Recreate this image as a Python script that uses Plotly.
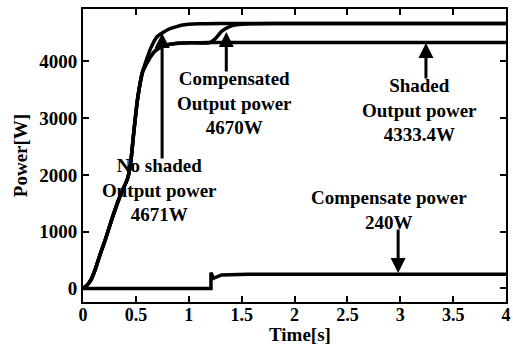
import plotly.graph_objects as go

# ---- data ----
t_common = [0, 0.04, 0.08, 0.12, 0.16, 0.21, 0.28, 0.36, 0.42, 0.45, 0.48, 0.517, 0.564]
p_common = [0, 60, 170, 360, 590, 855, 1263, 1674, 1930, 2200, 2750, 3352, 3822]

t_noshade_tail = [0.60, 0.642, 0.70, 0.80, 0.94, 1.1, 1.3, 4.0]
p_noshade_tail = [4030, 4240, 4437, 4560, 4643, 4665, 4671, 4671]

t_shade_tail = [0.60, 0.64, 0.69, 0.77, 0.876, 1.0, 1.2, 4.0]
p_shade_tail = [3960, 4090, 4200, 4285, 4318, 4330, 4333, 4333]

t_comp_tail = [0.60, 0.64, 0.69, 0.77, 0.876, 1.0, 1.2, 1.26, 1.31, 1.38, 1.45, 1.6, 1.8, 4.0]
p_comp_tail = [3960, 4090, 4200, 4285, 4318, 4330, 4335, 4420, 4530, 4610, 4645, 4665, 4670, 4670]

t_cpower = [0, 1.21, 1.21, 1.234, 1.31, 1.56, 2.0, 3.0, 4.0]
p_cpower = [0, 0, 280, 180, 238, 250, 252, 252, 252]

x_ticks = [0, 0.5, 1, 1.5, 2, 2.5, 3, 3.5, 4]
x_ticktext = ["0", "0.5", "1", "1.5", "2", "2.5", "3", "3.5", "4"]
y_ticks = [0, 1000, 2000, 3000, 4000]
y_ticktext = ["0", "1000", "2000", "3000", "4000"]

FONT = "Liberation Serif, Times New Roman, Times, serif"
LW = 3.5

fig = go.Figure()
for tt, pp in [(t_common + t_noshade_tail, p_common + p_noshade_tail),
               (t_common + t_shade_tail, p_common + p_shade_tail),
               (t_common + t_comp_tail, p_common + p_comp_tail)]:
    fig.add_trace(go.Scatter(x=tt, y=pp, mode="lines",
                             line=dict(color="black", width=LW, shape="spline", smoothing=0.5),
                             showlegend=False, hoverinfo="skip"))
fig.add_trace(go.Scatter(x=t_cpower, y=p_cpower, mode="lines",
                         line=dict(color="black", width=LW),
                         showlegend=False, hoverinfo="skip"))

tfont = dict(family=FONT, size=19, color="black", weight="bold")

texts = [
    ("No shaded<br>Output power<br>4671W", 0.72, 1736),
    ("Compensated<br>Output power<br>4670W", 1.43, 3269),
    ("Shaded<br>Output power<br>4333.4W", 3.18, 3145),
    ("Compensate power<br>240W", 2.89, 1392),
]
for txt, x, y in texts:
    fig.add_annotation(x=x, y=y, text=txt, showarrow=False, font=tfont,
                       xref="x", yref="y", align="center")

arrows = [
    (0.748, 4502, 0.748, 2264),
    (1.355, 4520, 1.355, 3797),
    (3.243, 4326, 3.243, 3674),
    (2.98, 273, 2.98, 1066),
]
for x, y, ax, ay in arrows:
    fig.add_annotation(x=x, y=y, ax=ax, ay=ay, xref="x", yref="y",
                       axref="x", ayref="y", text="", showarrow=True,
                       arrowhead=2, arrowsize=1.0, arrowwidth=3, arrowcolor="black")

title_font = dict(family=FONT, size=19, color="black", weight="bold")
axis_common = dict(showline=True, linecolor="black", linewidth=2, mirror="ticks",
                   ticks="inside", ticklen=6, tickwidth=1.5, tickcolor="black",
                   showgrid=False, zeroline=False, ticklabeloverflow="allow")

fig.update_xaxes(range=[0, 4], tickvals=x_ticks, ticktext=x_ticktext,
                 ticklabelstandoff=-5,
                 tickfont=dict(family=FONT, size=18, color="black", weight="bold"),
                 **axis_common)
fig.update_yaxes(range=[-238, 4925], tickvals=y_ticks, ticktext=y_ticktext,
                 tickfont=dict(family=FONT, size=19, color="black", weight="bold"),
                 title=dict(text="Power[W]", standoff=7, font=title_font),
                 **axis_common)

fig.add_annotation(text="Time[s]", xref="paper", yref="paper", x=0.512, y=-0.11,
                   xanchor="center", yanchor="middle", showarrow=False, font=title_font)

fig.update_layout(width=513, height=349, margin=dict(l=83, r=2, t=9, b=47),
                  paper_bgcolor="white", plot_bgcolor="white")

fig.write_html("out.html")
